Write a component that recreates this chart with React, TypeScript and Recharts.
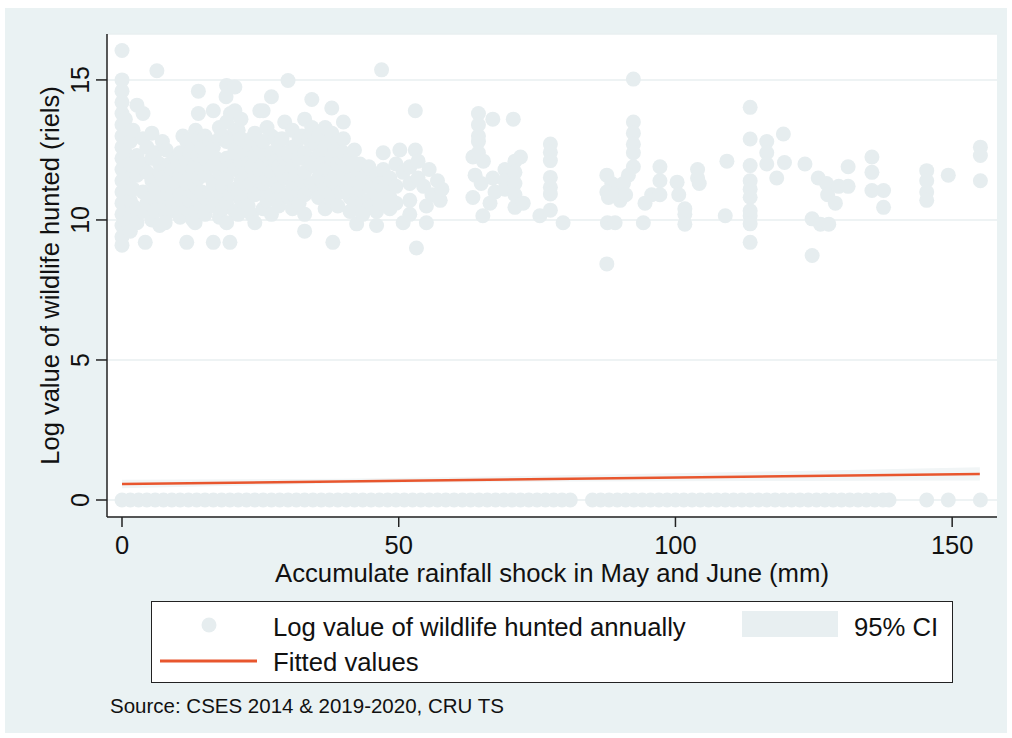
import React from 'react';
import { ComposedChart, Scatter, Line, Area, XAxis, YAxis, CartesianGrid } from 'recharts';

const FONT = '"Liberation Sans", Arial, Helvetica, sans-serif';
const BG = '#eaf2f3';
const DOT = '#e6edef';
const FIT = '#e8562e';

const xTicks = [0, 50, 100, 150];
const yTicks = [0, 5, 10, 15];

// observations with a positive hunted value: [rainfall shock, log value]
const huntedPoints: [number, number][] = [
  [0, 16.05], [0, 15.0], [0, 14.6], [0, 14.2], [0, 13.8], [0, 13.4], [0, 13.0], [0, 12.6], [0, 12.2],
  [0, 11.8], [0, 11.4], [0, 11.0], [0, 10.6], [0, 10.2], [0, 9.8], [0, 9.4], [0, 9.1],
  [0.6, 13.6], [0.6, 12.4], [0.6, 11.2], [0.6, 10.0],
  [1.5, 12.8], [1.5, 12.0], [1.5, 11.5], [1.5, 10.7], [1.5, 10.1], [1.5, 9.6],
  [2, 13.2], [2, 11.9], [2, 11.1], [2, 10.5],
  [2.7, 14.1], [2.7, 12.3], [2.7, 11.6], [2.7, 10.4], [2.7, 9.9],
  [3.8, 13.8], [3.8, 12.9], [3.8, 12.0], [3.8, 11.0], [3.8, 10.3], [4.2, 9.2],
  [4.5, 12.6], [4.5, 11.7], [4.5, 10.6],
  [5.4, 13.1], [5.4, 12.2], [5.4, 11.4], [5.4, 10.8], [5.4, 10.0], [6.3, 15.33],
  [6, 12.4], [6, 11.1], [6, 10.3],
  [6.8, 12.0], [6.8, 11.7], [6.8, 10.5], [6.8, 9.8],
  [7.3, 12.8], [7.3, 11.5], [7.3, 10.8],
  [8, 12.5], [8, 11.2], [8, 10.2], [7.8, 9.9],
  [8.6, 12.0], [8.6, 11.5], [8.6, 10.5],
  [9.2, 11.8], [9.2, 11.0], [9.2, 10.6],
  [9.8, 12.2], [9.8, 11.3], [9.8, 10.3],
  [10.5, 12.4], [10.5, 11.6], [10.5, 10.9], [10.5, 10.1],
  [11, 13.0], [11, 11.9], [11, 10.6],
  [11.7, 12.8], [11.7, 12.1], [11.7, 11.3], [11.7, 10.4], [11.7, 9.2],
  [12.2, 12.4], [12.2, 11.5], [12.2, 10.7],
  [12.8, 12.6], [12.8, 11.8], [12.8, 11.0], [12.8, 10.0],
  [13.3, 13.2], [13.3, 12.0], [13.3, 11.2], [13.3, 10.3],
  [13.8, 14.6], [13.8, 13.8], [13.8, 12.9], [13.8, 12.3], [13.8, 11.5], [13.8, 10.7], [13.2, 9.9],
  [14.4, 12.6], [14.4, 11.9], [14.4, 11.0], [14.4, 10.4],
  [15, 13.0], [15, 12.2], [15, 11.6], [15, 10.8], [15, 10.2],
  [15.8, 12.8], [15.8, 11.9], [15.8, 11.0],
  [16.5, 13.9], [16.5, 12.6], [16.5, 12.0], [16.5, 11.3], [16.5, 10.5], [16.5, 9.2],
  [17, 12.2], [17, 11.4], [17, 10.7],
  [17.6, 13.3], [17.6, 12.9], [17.6, 11.7], [17.6, 11.0], [17.6, 10.1],
  [18.2, 13.0], [18.2, 12.0], [18.2, 11.2], [18.2, 10.4],
  [18.9, 14.8], [18.8, 14.4], [18.9, 13.5], [18.9, 12.8], [18.9, 12.2], [18.9, 11.5], [18.9, 10.6], [18.9, 9.9],
  [19.5, 9.2], [19.6, 13.8], [19.6, 12.9], [19.6, 11.9], [19.6, 10.9],
  [20.4, 14.75], [20.4, 13.9], [20.4, 13.2], [20.4, 12.5], [20.4, 11.8], [20.4, 11.1], [20.4, 10.3],
  [21, 13.2], [21, 12.3], [21, 11.0], [21, 10.2],
  [21.5, 13.6], [21.5, 12.9], [21.5, 12.1], [21.5, 11.4], [21.5, 10.7],
  [22.2, 12.4], [22.2, 11.6], [22.2, 10.9],
  [22.8, 12.7], [22.8, 12.0], [22.8, 11.2], [22.8, 10.5],
  [23.4, 12.9], [23.4, 11.9], [23.4, 11.3], [23.4, 10.2],
  [24, 13.1], [24, 12.3], [24, 11.6], [24, 10.9], [24, 9.9], [24.9, 13.9],
  [24.8, 12.6], [24.8, 11.8], [24.8, 11.0],
  [25.5, 13.9], [25.5, 12.8], [25.5, 12.0], [25.5, 11.3], [25.5, 10.4],
  [26.2, 13.3], [26.2, 12.3], [26.2, 11.5], [26.2, 10.7],
  [27, 14.4], [27, 13.0], [27, 12.4], [27, 11.7], [27, 10.9], [27, 10.2],
  [27.7, 12.9], [27.7, 12.1], [27.7, 11.3],
  [28.3, 12.6], [28.3, 11.9], [28.3, 11.1], [28.3, 10.5],
  [28.9, 12.9], [28.9, 11.7], [28.9, 10.9],
  [29.4, 13.5], [29.4, 12.2], [29.4, 11.5], [29.4, 10.8], [30, 14.98],
  [30.2, 12.3], [30.2, 11.5], [30.2, 10.8],
  [30.8, 13.2], [30.8, 12.6], [30.8, 11.9], [30.8, 11.2], [30.8, 10.4],
  [31.4, 12.6], [31.4, 11.6], [31.4, 10.8],
  [32, 12.9], [32, 12.2], [32, 11.0], [32, 10.6], [32.5, 13.0], [32.5, 11.4],
  [33, 13.6], [33, 12.4], [33, 11.7], [33, 10.9], [33, 10.2], [33, 9.6],
  [33.7, 12.9], [33.7, 12.1], [33.7, 11.1],
  [34.3, 14.3], [34.3, 13.3], [34.3, 12.7], [34.3, 12.0], [34.3, 11.3],
  [35, 12.7], [35, 11.9], [35, 11.2],
  [35.5, 13.0], [35.5, 12.3], [35.5, 11.5], [35.5, 10.8], [36.1, 12.0], [36.1, 11.4],
  [36.7, 13.3], [36.7, 12.6], [36.7, 11.8], [36.7, 11.1], [36.7, 10.4],
  [37.3, 12.8], [37.3, 11.8], [37.3, 11.0],
  [37.9, 14.0], [37.9, 13.1], [37.9, 12.2], [37.9, 11.4], [37.9, 10.7], [38.1, 9.2],
  [38.5, 12.5], [38.5, 11.6], [38.5, 10.9],
  [39, 12.8], [39, 12.0], [39, 11.2], [39, 10.5], [39.6, 12.2], [39.6, 11.0],
  [40, 13.5], [40, 12.9], [40, 12.4], [40, 11.6], [40.7, 11.9], [40.7, 11.2],
  [41.2, 12.2], [41.2, 11.4], [41.2, 10.8], [41.2, 10.3],
  [42, 12.5], [42, 11.3], [42, 10.6],
  [42.4, 11.8], [42.4, 11.0], [42.4, 9.86], [43, 12.0], [43, 11.1],
  [43.5, 11.5], [43.5, 10.6], [43.5, 10.2],
  [44.6, 11.9], [44.6, 11.2], [44.6, 10.7], [45.2, 11.4], [45.2, 10.5],
  [46, 11.6], [46, 10.9], [46, 10.3], [46, 9.8], [46.9, 15.36], [46.6, 11.3], [46.6, 10.6],
  [47.2, 12.4], [47.2, 11.8], [47.2, 11.1],
  [48.4, 11.5], [48.4, 10.8], [48.4, 10.4],
  [49.5, 12.0], [49.5, 11.2], [49.5, 10.6], [50.2, 12.5], [50.8, 11.7], [50.8, 9.9],
  [52, 11.9], [52, 11.3], [52, 10.7], [52, 10.2],
  [53, 12.5], [53, 13.9], [53.2, 9.0],
  [53.5, 12.1], [53.5, 11.5], [55.5, 11.8], [57, 11.4], [54.5, 11.2], [56, 10.9], [57.5, 10.7],
  [55, 10.5], [55, 9.9], [57.8, 11.1],
  [64.4, 13.8], [64.4, 13.4], [64.4, 13.0], [64.4, 12.8], [67, 13.6], [70.7, 13.6],
  [63.4, 12.25], [64.4, 12.4], [65.3, 12.1], [63.8, 11.6], [64.9, 11.3], [67, 11.5],
  [63.4, 10.8], [66.5, 10.6], [67.4, 11.0], [65.2, 10.15],
  [69.2, 11.8], [69.2, 11.4], [69.2, 11.1], [71, 12.1], [71, 11.7], [71, 11.3], [71, 10.9],
  [71, 10.45], [72, 12.25], [72.5, 10.6],
  [77.4, 12.71], [77.4, 12.42], [77.4, 12.12], [77.4, 11.52], [77.4, 11.17], [77.4, 10.93],
  [75.5, 10.15], [77.4, 10.35], [79.7, 9.9],
  [87.6, 8.43], [92.4, 15.03], [92.4, 13.5], [92.4, 13.1], [92.4, 12.7], [92.4, 12.4], [92.4, 11.9],
  [87.6, 11.6], [88.5, 11.3], [87.6, 11.0], [87.9, 10.8], [89.5, 11.0], [90.6, 11.3], [91.5, 11.6],
  [90, 10.7], [91, 10.9], [87.7, 9.9], [89.1, 9.9],
  [97.2, 11.9], [97.2, 11.4], [95.7, 10.9], [94.5, 10.6], [97.2, 10.9], [94.2, 9.9],
  [100.3, 11.35], [100.6, 10.9], [101.7, 10.4], [101.7, 10.2], [101.7, 9.85],
  [104, 11.8], [104, 11.5], [104.3, 11.3],
  [109.3, 12.1], [109, 10.15],
  [113.5, 14.02], [113.5, 12.89], [113.5, 11.94], [113.5, 11.4], [113.5, 11.1], [113.5, 10.81],
  [113.5, 10.33], [113.5, 10.15], [113.5, 9.86], [113.5, 9.2],
  [116.5, 12.8], [116.5, 12.4], [116.5, 12.0], [118.3, 11.5], [119.5, 13.07], [119.7, 12.05],
  [123.4, 12.0], [125.8, 11.5], [127.3, 11.3], [127.5, 10.9], [128.9, 10.6], [129.5, 11.2],
  [131.2, 11.9], [131.2, 11.2], [124.7, 10.04], [126.2, 9.85], [127.7, 9.85], [124.7, 8.73],
  [135.5, 12.25], [135.5, 11.7], [135.5, 11.05], [137.6, 11.05], [137.6, 10.45],
  [145.4, 11.76], [145.4, 11.4], [145.4, 11.0], [145.4, 10.7], [149.3, 11.6],
  [155.1, 12.6], [155.1, 12.3], [155.1, 11.4],
];

// observations with zero value hunted (rainfall shock only)
const zeroShockX: number[] = [
  0, 1.5, 3, 4.5, 6, 7.5, 9, 10.5, 12, 13.5, 15, 16.5, 18, 19.5, 21, 22.5, 24, 25.5, 27, 28.5,
  30, 31.5, 33, 34.5, 36, 37.5, 39, 40.5, 42, 43.5, 45, 46.5, 48, 49.5, 51, 52.5, 54, 55.5, 57,
  58.5, 60, 61.5, 63, 64.5, 66, 67.5, 69, 70.5, 72, 73.5, 75, 76.5, 78, 79.5, 81,
  85, 86.5, 88, 89.5, 91, 92.5, 94, 95.5, 97, 98.5, 100, 101.5, 103, 104.5, 106, 107.5, 109,
  110.5, 112, 113.5, 115, 116.5, 118, 119.5, 121, 122.5, 124, 125.5, 127, 128.5, 130, 131.5,
  133, 134.5, 136, 137.5, 138.6, 145.4, 149.3, 155.1,
];

const fittedX = [0, 155];
const fittedY = [0.57, 0.93];

const ciX = [0, 40, 80, 120, 155];
const ciLow = [0.42, 0.6, 0.66, 0.68, 0.7];
const ciHigh = [0.72, 0.76, 0.88, 1.03, 1.17];

const hunted = huntedPoints.map(([x, y]) => ({ x, y }));
const zeros = zeroShockX.map(x => ({ x, y: 0 }));
const fitted = fittedX.map((x, i) => ({ x, fit: fittedY[i] }));
const ci = ciX.map((x, i) => ({ x, ci: [ciLow[i], ciHigh[i]] }));

const Dot = (p: any) => <circle cx={p.cx} cy={p.cy} r={7.5} fill={DOT} />;

const YTick = ({ x, y, payload }: any) => (
  <text x={x} y={y} transform={`rotate(-90 ${x} ${y})`} textAnchor="middle"
    fontSize={25} fill="#111" fontFamily={FONT}>{payload.value}</text>
);

const axisStroke = { stroke: '#222', strokeWidth: 1.5 };

export default function App() {
  return (
    <div style={{ position: 'relative', width: 1012, height: 738, background: '#fff', fontFamily: FONT }}>
      <style>{'body{margin:0}'}</style>
      <div style={{ position: 'absolute', left: 5, top: 8, width: 1002, height: 725, background: BG }} />
      <div style={{ position: 'absolute', left: 0, top: 0 }}>
        <ComposedChart width={1012} height={738} margin={{ top: 34, right: 15, left: 47, bottom: 146 }}>
          <CartesianGrid horizontal vertical={false} stroke="#e8eff1" strokeWidth={1.5} fill="#ffffff" />
          <XAxis type="number" dataKey="x" domain={[-2.71, 158.1]} ticks={xTicks} allowDataOverflow
            height={75} tickSize={10} tickMargin={9} axisLine={axisStroke} tickLine={axisStroke}
            tick={{ fontSize: 25.5, fill: '#111', fontFamily: FONT }}
            label={{ value: 'Accumulate rainfall shock in May and June (mm)', position: 'insideBottom', offset: 10,
              style: { fontSize: 25.7, fill: '#111', fontFamily: FONT } }} />
          <YAxis type="number" dataKey="y" domain={[-0.607, 16.64]} ticks={yTicks} allowDataOverflow
            width={60} tickSize={11} tickMargin={7} axisLine={axisStroke} tickLine={axisStroke}
            tick={<YTick />}
            label={{ value: 'Log value of wildlife hunted (riels)', angle: -90, position: 'insideLeft', offset: 3,
              style: { fontSize: 25.5, fill: '#111', fontFamily: FONT, textAnchor: 'middle' } }} />
          <Scatter data={zeros} shape={<Dot />} isAnimationActive={false} />
          <Scatter data={hunted} shape={<Dot />} isAnimationActive={false} />
          <Area data={ci} dataKey="ci" type="linear" fill="#f1f5f6" fillOpacity={1} stroke="none" isAnimationActive={false} />
          <Line data={fitted} dataKey="fit" type="linear" stroke={FIT} strokeWidth={2.5} dot={false} isAnimationActive={false} />
        </ComposedChart>
      </div>
      <div style={{ position: 'absolute', left: 151, top: 601, width: 800, height: 80, border: '1.5px solid #222', background: '#fff' }}>
        <svg width={800} height={80} style={{ position: 'absolute', left: 0, top: 0 }}>
          <circle cx={57} cy={23} r={7.5} fill={DOT} />
          <rect x={590} y={9} width={96} height={26} fill="#e8eff1" />
          <line x1={8} x2={105} y1={59} y2={59} stroke={FIT} strokeWidth={3} />
        </svg>
        <div style={{ position: 'absolute', left: 121, top: 10, fontSize: 25.7, lineHeight: '30px', color: '#111', whiteSpace: 'nowrap' }}>
          Log value of wildlife hunted annually
        </div>
        <div style={{ position: 'absolute', left: 702, top: 10, fontSize: 25.7, lineHeight: '30px', color: '#111', whiteSpace: 'nowrap' }}>
          95% CI
        </div>
        <div style={{ position: 'absolute', left: 121, top: 45, fontSize: 25.7, lineHeight: '30px', color: '#111', whiteSpace: 'nowrap' }}>
          Fitted values
        </div>
      </div>
      <div style={{ position: 'absolute', left: 110, top: 693, fontSize: 20.5, lineHeight: '26px', color: '#111', whiteSpace: 'nowrap' }}>
        Source: CSES 2014 &amp; 2019-2020, CRU TS
      </div>
    </div>
  );
}
